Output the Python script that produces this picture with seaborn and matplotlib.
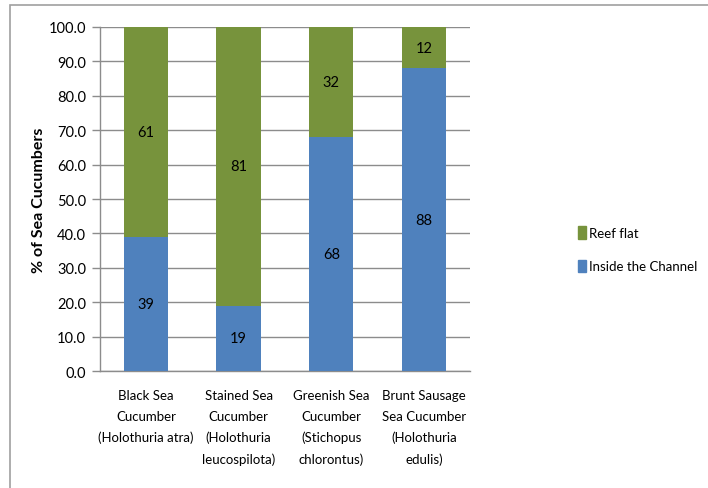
import matplotlib
matplotlib.use("Agg")
import matplotlib.pyplot as plt
import seaborn as sns
import pandas as pd
from matplotlib.patches import Rectangle, Patch

# data
categories = [
    "Black Sea\nCucumber\n(Holothuria atra)",
    "Stained Sea\nCucumber\n(Holothuria\nleucospilota)",
    "Greenish Sea\nCucumber\n(Stichopus\nchlorontus)",
    "Brunt Sausage\nSea Cucumber\n(Holothuria\nedulis)",
]
inside_channel = [39, 19, 68, 88]
reef_flat = [61, 81, 32, 12]
y_ticks = [0, 10, 20, 30, 40, 50, 60, 70, 80, 90, 100]

blue = "#4F81BD"
green = "#77933C"
grid_c = "#8C8C8C"

sns.set_style("white")
plt.rcParams["font.family"] = ["Lato", "DejaVu Sans"]
plt.rcParams["text.color"] = "black"
plt.rcParams["xtick.color"] = "black"
plt.rcParams["ytick.color"] = "black"
plt.rcParams["axes.labelcolor"] = "black"

df = pd.DataFrame({
    "cat": categories,
    "inside": inside_channel,
    "reef": reef_flat,
})
df["total"] = df["inside"] + df["reef"]

fig = plt.figure(figsize=(7.08, 4.89), dpi=100)
ax = fig.add_axes([0.141, 0.239, 0.523, 0.704])

# stacked: full height green first, then blue on top of it
sns.barplot(data=df, x="cat", y="total", color=green, width=0.48,
            saturation=1, ax=ax, zorder=3, linewidth=0, edgecolor="none")
sns.barplot(data=df, x="cat", y="inside", color=blue, width=0.48,
            saturation=1, ax=ax, zorder=4, linewidth=0, edgecolor="none")

# value labels
for i in range(len(categories)):
    ax.text(i, inside_channel[i] / 2, str(inside_channel[i]), ha="center",
            va="center", fontsize=10.5, zorder=5)
    ax.text(i, inside_channel[i] + reef_flat[i] / 2, str(reef_flat[i]),
            ha="center", va="center", fontsize=10.5, zorder=5)

ax.set_ylim(0, 100)
ax.set_xlim(-0.5, len(categories) - 0.5)
ax.set_yticks(y_ticks)
ax.set_yticklabels([f"{v:.1f}" for v in y_ticks], fontsize=10.5)
ax.yaxis.grid(True, color=grid_c, linewidth=1, zorder=0)
ax.set_axisbelow(True)

ax.set_xticks(range(len(categories)))
ax.set_xticklabels(categories, fontsize=9.5, linespacing=1.85)
ax.set_xlabel("")
ax.set_ylabel("% of Sea Cucumbers", fontsize=11.5, fontweight="bold")
ax.yaxis.set_label_coords(-0.145, 0.5)

# category separators on x axis
ax.set_xticks([i - 0.5 for i in range(len(categories) + 1)], minor=True)
ax.tick_params(axis="x", which="major", length=0, pad=13)
ax.tick_params(axis="x", which="minor", length=6, color=grid_c, width=1)
ax.tick_params(axis="y", length=6, color=grid_c, width=1, pad=4, left=True,
               labelcolor="black")

for s in ["top", "right"]:
    ax.spines[s].set_visible(False)
for s in ["left", "bottom"]:
    ax.spines[s].set_color(grid_c)
    ax.spines[s].set_linewidth(1)

handles = [Patch(color=green, label="Reef flat"),
           Patch(color=blue, label="Inside the Channel")]
fig.legend(handles=handles, loc="center left",
           bbox_to_anchor=(0.8, 0.488), frameon=False, fontsize=9.5,
           handlelength=0.6, handleheight=1.1, handletextpad=0.25,
           labelspacing=1.55)

# outer chart border
fig.patches.append(Rectangle((10 / 708, -0.1), 1.2, 0.1 + 1 - 6 / 489,
                             transform=fig.transFigure, fill=False,
                             edgecolor="#A0A0A0", linewidth=1.2))

fig.savefig("out.png", dpi=100)
